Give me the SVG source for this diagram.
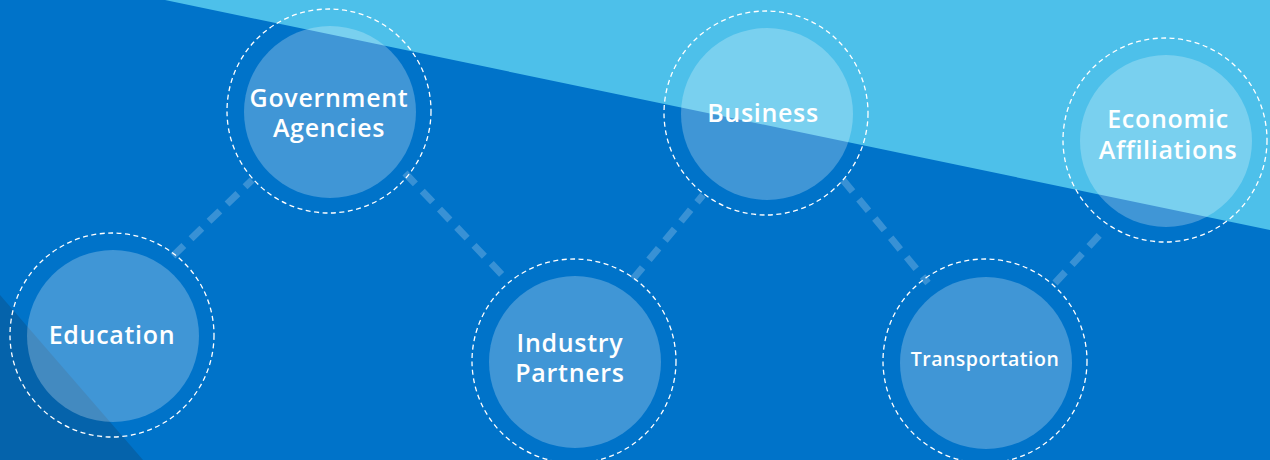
<svg xmlns="http://www.w3.org/2000/svg" width="1270" height="460" viewBox="0 0 1270 460">
  <defs>
    <style>
      .inner { fill: #ffffff; fill-opacity: 0.25; }
      .ring { fill: none; stroke: #ffffff; stroke-width: 1.3; stroke-dasharray: 5 3.5; }
      .label { fill: #ffffff; font-family: "Open Sans", "Liberation Sans", sans-serif; font-size: 25px; font-weight: 600; text-anchor: middle; letter-spacing: 0.7px; }
      .small { font-size: 19.5px; letter-spacing: 0.5px; }
      .conn { stroke: #ffffff; stroke-opacity: 0.22; stroke-width: 7; stroke-dasharray: 15 10; fill: none; }
    </style>
  </defs>
  <rect x="0" y="0" width="1270" height="460" fill="#0073C9"/>
  <polygon points="165,0 1270,0 1270,230" fill="#4DC0EA"/>
  <polygon points="0,295 143,460 0,460" fill="#0563AB"/>

  <g id="connectors">
    <line class="conn" x1="173" y1="256" x2="252" y2="180"/>
    <line class="conn" x1="405" y1="173" x2="508" y2="281"/>
    <line class="conn" x1="633" y1="279" x2="703" y2="195"/>
    <line class="conn" x1="843" y1="180" x2="928" y2="283"/>
    <line class="conn" x1="1055" y1="283" x2="1106" y2="228"/>
  </g>

  <g id="node-education">
    <circle class="ring" cx="112" cy="335" r="102"/>
    <circle class="inner" cx="113" cy="336" r="86"/>
    <text class="label" x="112" y="344">Education</text>
  </g>
  <g id="node-government">
    <circle class="ring" cx="329" cy="111" r="102"/>
    <circle class="inner" cx="330" cy="112" r="86"/>
    <text class="label" x="329" y="107">Government</text>
    <text class="label" x="329" y="137">Agencies</text>
  </g>
  <g id="node-industry">
    <circle class="ring" cx="574" cy="361" r="102"/>
    <circle class="inner" cx="575" cy="362" r="86"/>
    <text class="label" x="570" y="352">Industry</text>
    <text class="label" x="570" y="382">Partners</text>
  </g>
  <g id="node-business">
    <circle class="ring" cx="766" cy="113" r="102"/>
    <circle class="inner" cx="767" cy="114" r="86"/>
    <text class="label" x="763" y="122">Business</text>
  </g>
  <g id="node-transportation">
    <circle class="ring" cx="985" cy="361" r="102"/>
    <circle class="inner" cx="986" cy="363" r="86"/>
    <text class="label small" x="985" y="366">Transportation</text>
  </g>
  <g id="node-economic">
    <circle class="ring" cx="1165" cy="140" r="102"/>
    <circle class="inner" cx="1166" cy="141" r="86"/>
    <text class="label" x="1168" y="128">Economic</text>
    <text class="label" x="1168" y="159">Affiliations</text>
  </g>
</svg>
